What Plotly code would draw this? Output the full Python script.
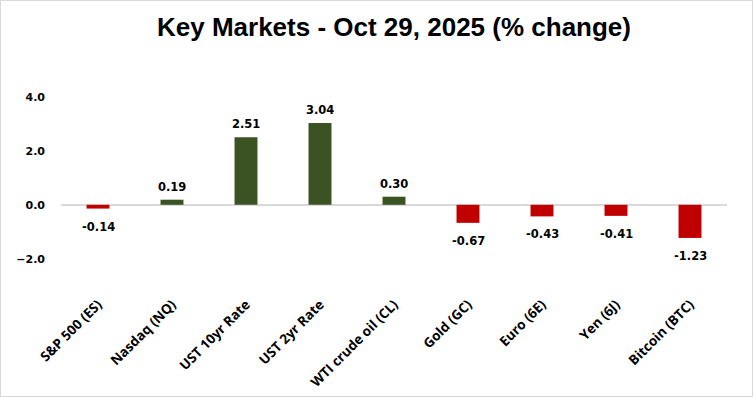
import plotly.graph_objects as go

categories = ["S&P 500 (ES)", "Nasdaq (NQ)", "UST 10yr Rate", "UST 2yr Rate",
              "WTI crude oil (CL)", "Gold (GC)", "Euro (6E)", "Yen (6J)", "Bitcoin (BTC)"]
values = [-0.14, 0.19, 2.51, 3.04, 0.30, -0.67, -0.43, -0.41, -1.23]
y_ticks = [-2.0, 0.0, 2.0, 4.0]
title_text = "Key Markets - Oct 29, 2025 (% change)"

GREEN = "#3B5323"
RED = "#C00000"
colors = [GREEN if v >= 0 else RED for v in values]

W, H = 755, 397
L, R, T, B = 61, 28, 89, 106

fig = go.Figure(go.Bar(
    x=categories, y=values,
    marker=dict(color=colors, line=dict(width=0)),
    width=0.31,
    hoverinfo="x+y",
))

for c, v in zip(categories, values):
    fig.add_annotation(
        x=c, y=v, xref="x", yref="y", text=f"<b>{v:.2f}</b>", showarrow=False,
        yanchor="bottom" if v >= 0 else "top",
        yshift=4 if v >= 0 else -9,
        font=dict(family="DejaVu Sans", size=11.5, color="black"),
    )

pw = W - L - R
ph = H - T - B
fig.add_shape(type="rect", xref="paper", yref="paper",
              x0=(0.5 - L) / pw, x1=(W - 2.5 - L) / pw,
              y0=-(H - 0.5 - T - ph) / ph, y1=1 + (T - 0.5) / ph,
              line=dict(color="#D9D9D9", width=1), fillcolor="rgba(0,0,0,0)", layer="below")

fig.update_layout(
    width=W, height=H,
    margin=dict(l=L, r=R, t=T, b=B, autoexpand=False),
    paper_bgcolor="white", plot_bgcolor="white",
    showlegend=False,
    title=dict(text=title_text, x=0.5, xref="paper", xanchor="center", y=1 - 27 / H, yanchor="middle",
               font=dict(family="Liberation Sans Narrow, Liberation Sans", size=26, color="black", weight="bold")),
    xaxis=dict(tickangle=-45, showgrid=False, showline=False, ticks="", automargin=False,
               tickfont=dict(family="Open Sans", size=13.5, color="black", weight="bold"),
               ticklabelstandoff=2),
    yaxis=dict(range=[-3.2, 4.3], tickvals=y_ticks, tickformat=".1f", showgrid=False,
               zeroline=True, zerolinecolor="#D9D9D9", zerolinewidth=1.5, showline=False,
               ticks="", ticklabelstandoff=15, automargin=False,
               tickfont=dict(family="DejaVu Sans", size=11, color="black", weight="bold")),
    bargap=0.69,
)

fig.write_html("out.html", config={"displayModeBar": False},
               post_script="document.body.style.margin='0';document.body.style.overflow='hidden';")
